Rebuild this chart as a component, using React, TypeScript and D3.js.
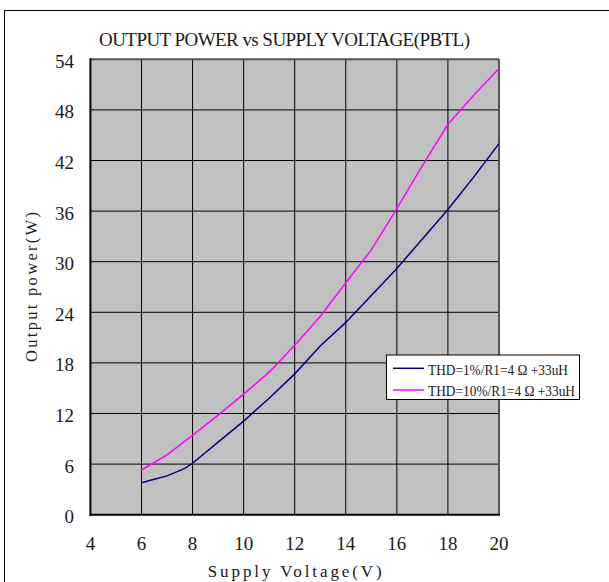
import React from "react";
import * as d3 from "d3";

const xTicks = [4, 6, 8, 10, 12, 14, 16, 18, 20];
const yTicks = [0, 6, 12, 18, 24, 30, 36, 42, 48, 54];

const thd1V = [6, 6.5, 7, 7.7, 8, 9, 10, 11, 12, 13, 14, 15, 16, 17, 18, 19, 20];
const thd1P = [3.8, 4.2, 4.6, 5.5, 6.1, 8.6, 11.1, 13.8, 16.7, 20.0, 22.8, 26.0, 29.2, 32.7, 36.2, 40.0, 44.0];

const thd10V = [6, 7, 8, 9, 10, 11, 12, 13, 14, 15, 16, 17, 18, 19, 20];
const thd10P = [5.3, 7.1, 9.4, 11.8, 14.3, 16.9, 20.1, 23.5, 27.5, 31.4, 36.3, 41.4, 46.3, 49.7, 52.9];

const seriesNames = ["THD=1%/R1=4 Ω +33uH", "THD=10%/R1=4 Ω +33uH"];
const seriesColors = ["#000080", "#ff00ff"];

const title = "OUTPUT POWER vs SUPPLY VOLTAGE(PBTL)";
const xTitle = "Supply Voltage(V)";
const yTitle = "Output power(W)";

const FONT = "'Liberation Serif', 'DejaVu Serif', serif";

export default function App() {
  const left = 90.4, right = 499, top = 59.3, bottom = 514.7;
  const x = d3.scaleLinear().domain([4, 20]).range([left, right]);
  const y = d3.scaleLinear().domain([0, 54]).range([bottom, top]);
  const line = d3
    .line<[number, number]>()
    .x((d) => x(d[0]))
    .y((d) => y(d[1]));
  const s1 = thd1V.map((v, i) => [v, thd1P[i]] as [number, number]);
  const s2 = thd10V.map((v, i) => [v, thd10P[i]] as [number, number]);

  const lgX = 386.5, lgY = 355, lgW = 193, lgH = 44.5;

  return (
    <svg
      width={609}
      height={582}
      style={{ position: "absolute", left: 0, top: 0, background: "#fff" }}
      fontFamily={FONT}
    >
      <rect x={0} y={0} width={609} height={582} fill="#fff" />
      <rect x={4.5} y={10.5} width={700} height={700} fill="none" stroke="#000" strokeWidth={1} />
      <text x={99} y={46} fontSize={19} textLength={371} lengthAdjust="spacing" fill="#1a1a1a">
        {title}
      </text>
      <rect x={left} y={top} width={right - left} height={bottom - top} fill="#c0c0c0" />
      {xTicks.slice(1, -1).map((t) => (
        <line key={"gx" + t} x1={x(t)} x2={x(t)} y1={top} y2={bottom} stroke="#000" strokeWidth={1} />
      ))}
      {yTicks.slice(1, -1).map((t) => (
        <line key={"gy" + t} x1={left} x2={right} y1={y(t)} y2={y(t)} stroke="#000" strokeWidth={1} />
      ))}
      <line x1={left} x2={right} y1={top} y2={top} stroke="#555" strokeWidth={2} />
      <line x1={right} x2={right} y1={top} y2={bottom} stroke="#555" strokeWidth={2} />
      <line x1={left} x2={left} y1={top - 1} y2={bottom + 1} stroke="#000" strokeWidth={2} />
      <line x1={left - 1} x2={right + 1} y1={bottom} y2={bottom} stroke="#000" strokeWidth={2} />
      <path d={line(s1) || ""} fill="none" stroke={seriesColors[0]} strokeWidth={1.5} />
      <path d={line(s2) || ""} fill="none" stroke={seriesColors[1]} strokeWidth={1.5} />
      {yTicks.map((t) => (
        <text key={"ty" + t} x={74} y={y(t) + 8.5} fontSize={19} textAnchor="end" fill="#1a1a1a">
          {t}
        </text>
      ))}
      {xTicks.map((t) => (
        <text key={"tx" + t} x={x(t)} y={550} fontSize={19} textAnchor="middle" fill="#1a1a1a">
          {t}
        </text>
      ))}
      <text x={(left + right) / 2} y={577} fontSize={17} textAnchor="middle" textLength={174} lengthAdjust="spacing" fill="#1a1a1a">
        {xTitle}
      </text>
      <text
        transform={`translate(37,${(top + bottom) / 2}) rotate(-90)`}
        fontSize={16.5}
        textAnchor="middle"
        textLength={150}
        lengthAdjust="spacing"
        fill="#1a1a1a"
      >
        {yTitle}
      </text>
      <rect x={lgX} y={lgY} width={lgW} height={lgH} fill="#fff" stroke="#000" strokeWidth={1} />
      {seriesNames.map((n, i) => (
        <g key={n}>
          <line x1={393} x2={424} y1={368.3 + i * 21.7} y2={368.3 + i * 21.7} stroke={seriesColors[i]} strokeWidth={1.5} />
          <text x={428} y={374.5 + i * 21.7} fontSize={15.5} textLength={i === 0 ? 140 : 147} lengthAdjust="spacingAndGlyphs" fill="#1a1a1a">
            {n}
          </text>
        </g>
      ))}
    </svg>
  );
}
